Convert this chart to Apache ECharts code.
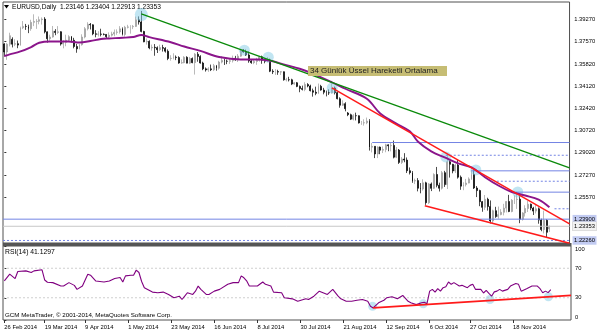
<!DOCTYPE html>
<html>
<head>
<meta charset="utf-8">
<script src="https://cdn.jsdelivr.net/npm/echarts@6/dist/echarts.min.js"></script>
<style>
  html, body { margin: 0; padding: 0; background: #fff; }
  #container { width: 600px; height: 333px; }
</style>
</head>
<body>
<div id="container"></div>
<script>
var dom = document.getElementById('container');
var myChart = echarts.init(dom, null, { renderer: 'canvas' });

// trading days (Mon-Fri) shown on the chart
const monthNames = ['Jan', 'Feb', 'Mar', 'Apr', 'May', 'Jun', 'Jul', 'Aug', 'Sep', 'Oct', 'Nov', 'Dec'];
const dates = [];
for (let t = Date.UTC(2014, 1, 26); t <= Date.UTC(2014, 11, 8); t += 86400000) {
  const d = new Date(t);
  const wd = d.getUTCDay();
  if (wd !== 0 && wd !== 6) dates.push(d.getUTCDate() + ' ' + monthNames[d.getUTCMonth()] + ' ' + d.getUTCFullYear());
}
const emptySlots = ['e1', 'e2', 'e3', 'e4', 'e5', 'e6', 'e7'];
const labelDates = ['26 Feb 2014', '19 Mar 2014', '9 Apr 2014', '1 May 2014', '23 May 2014', '16 Jun 2014',
  '8 Jul 2014', '30 Jul 2014', '21 Aug 2014', '12 Sep 2014', '6 Oct 2014', '27 Oct 2014', '18 Nov 2014'];

// daily OHLC
const open = [
  1.3739,1.3677,1.3737,1.3775,1.3737,1.3741,1.3730,1.3863,1.3874,1.3873,
  1.3856,1.3905,1.3912,1.3913,1.3926,1.3930,1.3832,1.3779,1.3792,1.3837,
  1.3827,1.3833,1.3738,1.3751,1.3768,1.3795,1.3767,1.3719,1.3701,1.3733,
  1.3792,1.3856,1.3890,1.3886,1.3817,1.3813,1.3815,1.3813,1.3812,1.3795,
  1.3806,1.3815,1.3828,1.3831,1.3855,1.3812,1.3867,1.3870,1.3871,1.3874,
  1.3925,1.3908,1.3835,1.3755,1.3759,1.3708,1.3713,1.3710,1.3695,1.3711,
  1.3705,1.3683,1.3627,1.3628,1.3637,1.3634,1.3592,1.3595,1.3636,1.3591,
  1.3627,1.3595,1.3660,1.3643,1.3592,1.3547,1.3539,1.3547,1.3540,1.3571,
  1.3552,1.3599,1.3612,1.3606,1.3605,1.3610,1.3628,1.3616,1.3645,1.3692,
  1.3677,1.3654,1.3608,1.3595,1.3604,1.3613,1.3640,1.3614,1.3605,1.3613,
  1.3529,1.3524,1.3526,1.3522,1.3525,1.3463,1.3464,1.3463,1.3430,1.3440,
  1.3412,1.3396,1.3389,1.3427,1.3415,1.3379,1.3367,1.3359,1.3413,1.3384,
  1.3367,1.3363,1.3362,1.3400,1.3364,1.3317,1.3267,1.3279,1.3207,1.3194,
  1.3160,1.3187,1.3186,1.3131,1.3131,1.3132,1.3145,1.2944,1.2951,1.2892,
  1.2945,1.2921,1.2926,1.2962,1.2955,1.2958,1.2867,1.2922,1.2827,1.2853,
  1.2845,1.2763,1.2748,1.2684,1.2687,1.2628,1.2622,1.2670,1.2517,1.2661,
  1.2627,1.2734,1.2651,1.2628,1.2748,1.2656,1.2832,1.2812,1.2761,1.2806,
  1.2713,1.2644,1.2656,1.2668,1.2700,1.2735,1.2630,1.2610,1.2525,1.2481,
  1.2543,1.2487,1.2376,1.2455,1.2410,1.2425,1.2443,1.2475,1.2526,1.2449,
  1.2536,1.2542,1.2544,1.2389,1.2438,1.2472,1.2505,1.2475,1.2452,1.2470,
  1.2383,1.2310,1.2381,1.23146
];
const high = [
  1.3745,1.3745,1.3825,1.3790,1.3775,1.3765,1.3872,1.3915,1.3893,1.3887,
  1.3925,1.3967,1.3930,1.3950,1.3943,1.3945,1.3835,1.3810,1.3877,1.3853,
  1.3876,1.3837,1.3768,1.3810,1.3806,1.3800,1.3786,1.3739,1.3739,1.3813,
  1.3869,1.3906,1.3900,1.3890,1.3845,1.3837,1.3856,1.3820,1.3815,1.3828,
  1.3833,1.3850,1.3851,1.3876,1.3866,1.3878,1.3886,1.3883,1.3885,1.3950,
  1.3951,1.3993,1.3840,1.3781,1.3767,1.3734,1.3738,1.3720,1.3733,1.3732,
  1.3714,1.3697,1.3652,1.3667,1.3650,1.3644,1.3620,1.3645,1.3644,1.3639,
  1.3635,1.3669,1.3677,1.3652,1.3602,1.3558,1.3560,1.3580,1.3585,1.3577,
  1.3609,1.3644,1.3625,1.3618,1.3623,1.3649,1.3647,1.3661,1.3701,1.3700,
  1.3695,1.3681,1.3616,1.3616,1.3632,1.3647,1.3649,1.3624,1.3638,1.3626,
  1.3544,1.3545,1.3540,1.3530,1.3527,1.3478,1.3486,1.3471,1.3445,1.3446,
  1.3419,1.3418,1.3444,1.3437,1.3425,1.3395,1.3410,1.3434,1.3424,1.3401,
  1.3380,1.3389,1.3444,1.3411,1.3369,1.3328,1.3305,1.3290,1.3215,1.3202,
  1.3198,1.3210,1.3189,1.3146,1.3159,1.3172,1.3160,1.2977,1.2951,1.2951,
  1.2949,1.2950,1.2970,1.2966,1.2981,1.2995,1.2945,1.2930,1.2868,1.2898,
  1.2865,1.2788,1.2760,1.2702,1.2706,1.2668,1.2697,1.2678,1.2668,1.2672,
  1.2743,1.2792,1.2671,1.2761,1.2762,1.2887,1.2843,1.2816,1.2814,1.2845,
  1.2726,1.2674,1.2700,1.2712,1.2771,1.2770,1.2645,1.2617,1.2530,1.2576,
  1.2555,1.2534,1.2463,1.2485,1.2487,1.2467,1.2508,1.2530,1.2577,1.2545,
  1.2574,1.2600,1.2577,1.2444,1.2497,1.2531,1.2510,1.2485,1.2500,1.2480,
  1.2394,1.2456,1.2390,1.23404
];
const low = [
  1.3642,1.3617,1.3720,1.3712,1.3722,1.3706,1.3725,1.3853,1.3847,1.3822,
  1.3840,1.3876,1.3855,1.3890,1.3888,1.3820,1.3749,1.3764,1.3787,1.3806,
  1.3816,1.3726,1.3705,1.3721,1.3760,1.3750,1.3705,1.3671,1.3696,1.3726,
  1.3782,1.3843,1.3850,1.3806,1.3790,1.3796,1.3797,1.3805,1.3777,1.3783,
  1.3796,1.3798,1.3810,1.3818,1.3804,1.3795,1.3858,1.3818,1.3853,1.3870,
  1.3888,1.3828,1.3752,1.3734,1.3698,1.3687,1.3648,1.3669,1.3684,1.3680,
  1.3672,1.3614,1.3610,1.3620,1.3614,1.3586,1.3586,1.3590,1.3590,1.3584,
  1.3590,1.3503,1.3602,1.3587,1.3537,1.3526,1.3524,1.3530,1.3530,1.3533,
  1.3541,1.3589,1.3577,1.3583,1.3585,1.3596,1.3609,1.3600,1.3640,1.3671,
  1.3646,1.3594,1.3586,1.3583,1.3578,1.3602,1.3586,1.3590,1.3598,1.3522,
  1.3507,1.3500,1.3501,1.3500,1.3456,1.3450,1.3450,1.3422,1.3425,1.3406,
  1.3367,1.3381,1.3375,1.3405,1.3373,1.3333,1.3344,1.3353,1.3379,1.3351,
  1.3335,1.3346,1.3357,1.3350,1.3312,1.3248,1.3261,1.3220,1.3183,1.3153,
  1.3150,1.3150,1.3126,1.3116,1.3110,1.3121,1.2918,1.2904,1.2860,1.2860,
  1.2890,1.2899,1.2905,1.2913,1.2912,1.2858,1.2860,1.2815,1.2815,1.2828,
  1.2745,1.2734,1.2670,1.2660,1.2604,1.2589,1.2610,1.2500,1.2507,1.2606,
  1.2622,1.2635,1.2603,1.2618,1.2638,1.2622,1.2710,1.2743,1.2745,1.2702,
  1.2616,1.2613,1.2642,1.2666,1.2692,1.2622,1.2560,1.2490,1.2447,1.2461,
  1.2456,1.2357,1.2357,1.2400,1.2394,1.2420,1.2419,1.2442,1.2444,1.2443,
  1.2507,1.2469,1.2359,1.2379,1.2410,1.2445,1.2459,1.2422,1.2434,1.2355,
  1.2297,1.2280,1.2247,1.22913
];
const close = [
  1.3677,1.3737,1.3802,1.3737,1.3741,1.3730,1.3863,1.3874,1.3873,1.3856,
  1.3905,1.3912,1.3913,1.3926,1.3930,1.3832,1.3779,1.3792,1.3837,1.3827,
  1.3833,1.3738,1.3751,1.3768,1.3795,1.3767,1.3719,1.3701,1.3733,1.3792,
  1.3856,1.3890,1.3886,1.3817,1.3813,1.3815,1.3813,1.3812,1.3795,1.3806,
  1.3815,1.3828,1.3831,1.3855,1.3812,1.3867,1.3870,1.3871,1.3874,1.3925,
  1.3908,1.3835,1.3755,1.3759,1.3708,1.3713,1.3710,1.3695,1.3711,1.3705,
  1.3683,1.3627,1.3628,1.3637,1.3634,1.3592,1.3595,1.3636,1.3591,1.3627,
  1.3595,1.3660,1.3643,1.3592,1.3547,1.3539,1.3547,1.3540,1.3571,1.3552,
  1.3599,1.3612,1.3606,1.3605,1.3610,1.3628,1.3616,1.3645,1.3692,1.3677,
  1.3654,1.3608,1.3595,1.3604,1.3613,1.3640,1.3614,1.3605,1.3613,1.3529,
  1.3524,1.3526,1.3522,1.3525,1.3463,1.3464,1.3463,1.3430,1.3440,1.3412,
  1.3396,1.3389,1.3427,1.3415,1.3379,1.3367,1.3359,1.3413,1.3384,1.3367,
  1.3363,1.3362,1.3400,1.3364,1.3317,1.3267,1.3279,1.3240,1.3194,1.3160,
  1.3187,1.3186,1.3131,1.3131,1.3132,1.3145,1.2944,1.2951,1.2892,1.2945,
  1.2921,1.2926,1.2962,1.2955,1.2958,1.2867,1.2922,1.2827,1.2853,1.2845,
  1.2763,1.2748,1.2684,1.2687,1.2628,1.2622,1.2670,1.2517,1.2661,1.2627,
  1.2734,1.2651,1.2628,1.2748,1.2656,1.2832,1.2812,1.2761,1.2806,1.2713,
  1.2644,1.2656,1.2668,1.2700,1.2735,1.2630,1.2610,1.2525,1.2481,1.2543,
  1.2487,1.2376,1.2455,1.2410,1.2425,1.2443,1.2475,1.2526,1.2449,1.2536,
  1.2542,1.2544,1.2389,1.2438,1.2472,1.2505,1.2475,1.2452,1.2470,1.2383,
  1.2310,1.2381,1.2289,1.23353
];

// 34 day EMA: [bar index, price]
const emaPoints = [
  [0,1.3646],[2,1.3658],[6,1.3681],[10,1.3715],[13,1.3748],[17,1.3758],[21,1.3758],[24,1.3758],
  [28,1.3750],[32,1.3761],[36,1.3777],[39,1.3781],[44,1.3786],[48,1.3792],[51,1.3808],[54,1.3791],
  [62,1.3752],[67,1.3719],[73,1.3685],[80,1.3638],[88,1.3619],[95,1.3619],[100,1.3606],[104,1.3581],
  [110,1.3548],[115,1.3509],[122,1.3444],[127,1.3394],[135,1.3317],[140,1.3203],[146,1.3126],
  [151,1.3066],[154,1.2988],[159,1.2912],[164,1.2865],[169,1.2819],[174,1.2788],[179,1.2713],
  [184,1.2649],[189,1.2599],[194,1.2572],[199,1.2541],[203,1.2482]
];

// RSI(14): [bar index, value]
const rsiPoints = [
  [0,53],[2,61.9],[4,56],[5,65.6],[8,66.4],[10,64.2],[11,66.4],[14,67.8],[15,54],[16,51],[18,50.5],
  [21,45.9],[22,45.9],[24,50.5],[26,46.8],[27,41.4],[29,45.9],[31,61.9],[32,60.5],[34,52.7],[37,51.4],
  [39,52.7],[41,56],[43,57.4],[44,51.4],[45,59.6],[47,60.5],[48,60.5],[49,67.4],[50,64.2],[51,52],
  [52,43.7],[55,37.7],[57,36.8],[59,37.7],[61,34.5],[63,30],[65,32.2],[66,27.7],[67,32.2],[68,36.8],
  [70,34.5],[71,39],[72,45.9],[73,41.4],[75,34.5],[76,34.5],[78,39],[80,41.4],[83,48.2],[85,50.5],
  [87,50.5],[88,59.6],[89,57],[90,53],[91,46],[92,45.9],[94,45.9],[96,51.4],[97,48.2],[99,45.9],
  [100,37.7],[103,36.8],[104,30],[107,28.6],[109,25.3],[112,28.6],[113,27.7],[115,32.2],[117,39],
  [120,34.5],[122,41.4],[124,32.2],[125,28.6],[127,25.3],[129,25.3],[131,26.7],[133,27.7],[135,25.3],
  [136,18.5],[137,16.3],[139,23.2],[141,26.7],[142,30],[144,31.4],[146,28.6],[148,33.2],[150,25.3],
  [151,23.2],[153,20.8],[155,23.2],[156,24],[157,22],[158,39],[159,41.4],[160,37.7],[161,42.3],
  [162,39],[163,43.7],[164,45],[165,51.4],[166,48.2],[167,50.5],[169,45.9],[170,46.8],[172,43.7],
  [173,46.8],[174,48.2],[175,41.4],[177,41.4],[178,36.5],[179,40],[180,35.9],[181,32.2],[182,38],
  [183,39],[184,41.4],[185,39],[187,41.4],[188,45.9],[190,49.2],[191,48.2],[192,39],[194,42.3],
  [196,45.9],[198,45.9],[199,42.3],[200,36.8],[201,39],[202,37],[203,41.1]
];

// drawn objects: trend lines [bar index, price]
const greenTrend = [[51, 1.3970], [210.5, 1.2784]];
const redUpperTrend = [[122, 1.3400], [210.5, 1.2353]];
const redLowerTrend = [[156.6, 1.2494], [210.5, 1.2204]];
// horizontal levels: price and first bar
const solidLevels = [1.2980, 1.2762, 1.2598, 1.2390];
const solidLevelStart = [137, 174, 190, -0.5];
const dashedLevels = [1.2882, 1.2682, 1.2470, 1.2226];
const dashedLevelStart = [164.4, 183.4, 204.9, -0.5];
const bidPrice = 1.23353;
// touch markers
const priceTouches = [[51, 1.3965], [89.4, 1.3691], [98.3, 1.3637], [122.1, 1.3400], [164.4, 1.2869], [175.6, 1.2769], [191.2, 1.2599]];
const rsiTouches = [[136.8, 18.5], [155.6, 21.8], [180.4, 27.7], [202.1, 31.4]];
const rsiTrend = [[137, 16.3], [210.5, 33.2]];
const rsiLevels = [70, 30];

// axis labels
const priceTicks = [1.3927, 1.3757, 1.3582, 1.3412, 1.3242, 1.3072, 1.2902, 1.2727, 1.2557];
const rsiTicks = [100, 70, 30, 0];

const cats = dates.concat(emptySlots);
const xEnd = cats.length - 0.5;
const candles = open.map((o, i) => [o, close[i], low[i], high[i]]);

const FONT = 'Liberation Sans';
const levelBlue = '#7384e4';

function segment(points, color, width, type, xi, yi) {
  return {
    type: 'line', xAxisIndex: xi, yAxisIndex: yi, data: points,
    symbol: 'none', silent: true, clip: true,
    lineStyle: { color: color, width: width, type: type || 'solid' }
  };
}

const series = [];
// horizontal levels
solidLevels.forEach((p, k) => series.push(segment([[solidLevelStart[k], p], [xEnd, p]], levelBlue, 1, 'solid', 1, 0)));
dashedLevels.forEach((p, k) => series.push(segment([[dashedLevelStart[k], p], [xEnd, p]], levelBlue, 1, [2, 2], 1, 0)));
series.push(segment([[-0.5, bidPrice], [xEnd, bidPrice]], '#c8c8c8', 1, 'solid', 1, 0));

series.push({
  type: 'candlestick', xAxisIndex: 0, yAxisIndex: 0, data: candles,
  barWidth: 1.4,
  itemStyle: { color: '#9c9c9c', color0: '#000000', borderColor: '#9c9c9c', borderColor0: '#000000', borderWidth: 0.7 }
});

series.push({
  type: 'line', xAxisIndex: 1, yAxisIndex: 0, data: emaPoints, smooth: 0.35,
  symbol: 'none', lineStyle: { color: '#8b158b', width: 1.9 }
});
series.push(segment(greenTrend, '#0a8a0a', 1.3, 'solid', 1, 0));
series.push(segment(redUpperTrend, '#ff1a1a', 1.5, 'solid', 1, 0));
series.push(segment(redLowerTrend, '#ff1a1a', 1.5, 'solid', 1, 0));
series.push({
  type: 'scatter', xAxisIndex: 1, yAxisIndex: 0, data: priceTouches,
  symbolSize: (v, p) => (p.dataIndex === 0 ? 13 : 11),
  itemStyle: { color: 'rgba(125,200,228,0.6)' }, silent: true
});

// RSI panel
rsiLevels.forEach(v => series.push(segment([[-0.5, v], [xEnd, v]], '#c4c4c4', 0.8, [2, 2], 3, 1)));
series.push({
  type: 'line', xAxisIndex: 3, yAxisIndex: 1, data: rsiPoints,
  symbol: 'none', lineStyle: { color: '#800080', width: 1.1 }
});
series.push(segment(rsiTrend, '#ff1a1a', 1.8, 'solid', 3, 1));
series.push({
  type: 'scatter', xAxisIndex: 3, yAxisIndex: 1, data: rsiTouches, symbolSize: 9,
  itemStyle: { color: 'rgba(125,200,228,0.6)' }, silent: true
});

const showLabel = (idx, val) => labelDates.indexOf(val) >= 0;

option = {
  animation: false,
  backgroundColor: '#ffffff',
  textStyle: { fontFamily: FONT },
  grid: [
    { left: 3, right: 29, top: 2, height: 241, show: true, borderColor: '#505050', borderWidth: 1 },
    { left: 3, right: 29, top: 246, height: 74, show: true, borderColor: '#505050', borderWidth: 1 }
  ],
  xAxis: [
    { type: 'category', gridIndex: 0, data: cats, show: false },
    { type: 'value', gridIndex: 0, min: -0.5, max: xEnd, show: false },
    {
      type: 'category', gridIndex: 1, data: cats, position: 'bottom',
      axisLine: { show: false },
      axisTick: { show: true, interval: showLabel, alignWithLabel: true, length: 3, lineStyle: { color: '#333' } },
      axisLabel: { interval: showLabel, align: 'left', fontSize: 5.8, color: '#000', margin: 4, fontFamily: FONT },
      splitLine: { show: false }
    },
    { type: 'value', gridIndex: 1, min: -0.5, max: xEnd, show: false }
  ],
  yAxis: [
    {
      type: 'value', gridIndex: 0, position: 'right',
      min: 1.22065, max: 1.40617,
      splitLine: { show: false }, axisLine: { show: false },
      axisTick: { show: true, customValues: priceTicks, length: 2, lineStyle: { color: '#333' } },
      axisLabel: {
        customValues: priceTicks.concat([1.2390, bidPrice, 1.2226]),
        fontSize: 5.8, color: '#000', margin: 3, fontFamily: FONT,
        formatter: function (v) {
          const s = v.toFixed(5);
          if (Math.abs(v - 1.2390) < 1e-7 || Math.abs(v - 1.2226) < 1e-7) return '{lv|' + s + '}';
          if (Math.abs(v - bidPrice) < 1e-7) return '{bid|' + s + '}';
          return ' ' + s;
        },
        rich: {
          lv: { backgroundColor: '#c2cbf2', padding: [1.5, 1.5, 1, 1.5], fontSize: 5.8, color: '#000', fontFamily: FONT },
          bid: { backgroundColor: '#f2f2f2', borderColor: '#c8c8c8', borderWidth: 0.5, padding: [1.5, 1.5, 1, 1.5], fontSize: 5.8, color: '#000', fontFamily: FONT }
        }
      }
    },
    {
      type: 'value', gridIndex: 1, position: 'right', min: 0, max: 100,
      splitLine: { show: false }, axisLine: { show: false },
      axisTick: { show: true, customValues: rsiTicks, length: 2, lineStyle: { color: '#333' } },
      axisLabel: {
        customValues: rsiTicks, fontSize: 5.8, color: '#000', margin: 4, fontFamily: FONT,
        formatter: function (v) {
          if (v === 100) return '{t|100}';
          if (v === 0) return '{b|0}';
          return String(v);
        },
        rich: {
          t: { padding: [6, 0, 0, 0], fontSize: 5.8, fontFamily: FONT },
          b: { padding: [0, 0, 6, 0], fontSize: 5.8, fontFamily: FONT }
        }
      }
    }
  ],
  graphic: [
    { type: 'rect', shape: { x: 2.5, y: 243, width: 569, height: 3 }, style: { fill: '#555' }, silent: true },
    { type: 'polygon', shape: { points: [[4, 5], [9, 5], [6.5, 8.5]] }, style: { fill: '#000' }, silent: true },
    { type: 'text', x: 12, y: 7, style: { text: 'EURUSD,Daily  1.23146 1.23404 1.22913 1.23353', fontSize: 6.6, fontFamily: FONT, fill: '#000', verticalAlign: 'middle' }, silent: true },
    { type: 'rect', shape: { x: 308, y: 66, width: 139, height: 10 }, style: { fill: '#c6bd74' }, silent: true, z: 50 },
    { type: 'text', x: 310, y: 71.2, z: 51, style: { text: '34 Günlük Üssel Hareketli Ortalama', fontSize: 8, fontFamily: FONT, fill: '#222', verticalAlign: 'middle' }, silent: true },
    { type: 'text', x: 5, y: 252.5, style: { text: 'RSI(14) 41.1297', fontSize: 6.8, fontFamily: FONT, fill: '#000', verticalAlign: 'middle' }, silent: true },
    { type: 'text', x: 5, y: 315.5, style: { text: 'GCM MetaTrader, © 2001-2014, MetaQuotes Software Corp.', fontSize: 6.2, fontFamily: FONT, fill: '#000', verticalAlign: 'middle' }, silent: true }
  ],
  series: series
};

if (option && typeof option === 'object') {
  myChart.setOption(option);
}
window.addEventListener('resize', myChart.resize);
</script>
</body>
</html>
